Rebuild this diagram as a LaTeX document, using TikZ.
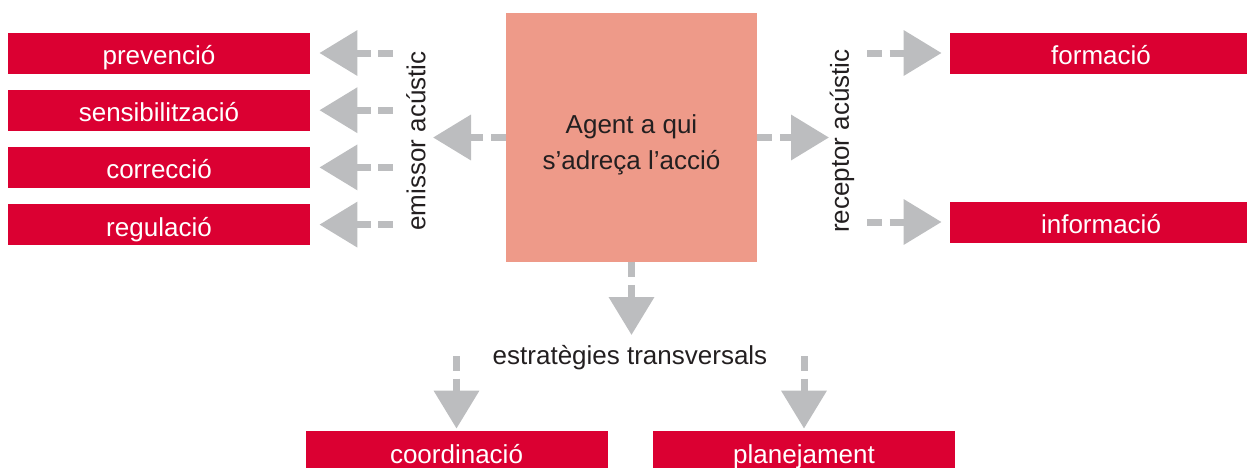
\documentclass[tikz,border=0pt]{standalone}
\usepackage{fontspec}
\setmainfont{Liberation Sans}
\usetikzlibrary{positioning,arrows.meta}
\definecolor{acred}{HTML}{DB0032}
\definecolor{acsalmon}{HTML}{EE9A89}
\definecolor{acgray}{HTML}{BCBDBF}
\definecolor{acink}{HTML}{231F20}

\begin{document}
\begin{tikzpicture}[x=0.5pt,y=-0.5pt,
    font=\fontsize{13}{18}\selectfont,
    box/.style={fill=acred,text=white,minimum width=151pt,inner sep=0pt,
      text height=16pt,text depth=4.5pt},
    flow/.style={draw=acgray,line width=3.5pt,dash pattern=on 7.5pt off 3.75pt,
      -{Triangle[length=19pt,width=22pt]}},
    lbl/.style={text=acink,inner sep=0pt}]
	\useasboundingbox (0,0) rectangle (1247,467);
	\clip (0,0) rectangle (1247,467);
	
	% Agent
	\node[fill=acsalmon,minimum width=125.5pt,minimum height=124.5pt,inner sep=0pt] (agent) at (631.5,137.5) {};
	\node[lbl,align=center] (agenttxt) at (631.5,145) {Agent a qui\\s’adreça l’acció};
	
	% emissor acústic
	\node[box] (prev) at (159,53) {prevenció};
	\node[box,below=7.7pt of prev] (sens) {sensibilització};
	\node[box,below=7.7pt of sens] (corr) {correcció};
	\node[box,below=7.7pt of corr] (reg) {regulació};
	\node[lbl,rotate=90] (emissor) at (416,141) {emissor acústic};
	
	% receptor acústic
	\node[box] (form) at (1101,53) {formació};
	\node[box] (info) at (1101,222) {informació};
	\node[lbl,rotate=90] (receptor) at (842,141) {receptor acústic};
	
	% estratègies transversals
	\node[lbl] (estrat) at (630,358) {estratègies transversals};
	\node[box] (coord) at (456.5,451.5) {coordinació};
	\node[box] (plan) at (804,451.5) {planejament};
	
	% Pfeile
	\coordinate (emtip) at (433,0);
	\coordinate (emstart) at (393,0);
	\coordinate (rctip) at (829,0);
	\coordinate (rcstart) at (867,0);
	\coordinate (sttip) at (0,335);
	\coordinate (ststart) at (0,356);
	
	\draw[flow] (agent.west) -- (emtip |- agent.west);
	\foreach \n in {prev,sens,corr,reg}
		\draw[flow] (emstart |- \n.east) -- ([xshift=4.5pt]\n.east);
	
	\draw[flow] (agent.east) -- (rctip |- agent.east);
	\foreach \n in {form,info}
		\draw[flow] (rcstart |- \n.west) -- ([xshift=-4pt]\n.west);
	
	\draw[flow] (agent.south) -- (agent.south |- sttip);
	\foreach \n in {coord,plan}
		\draw[flow] (ststart -| \n.north) -- ([yshift=1pt]\n.north);
\end{tikzpicture}
\end{document}
